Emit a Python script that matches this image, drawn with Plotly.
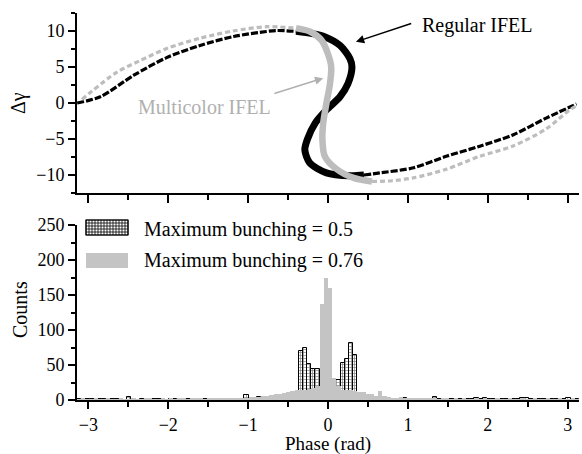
import numpy as np
import plotly.graph_objects as go

# ---------------- phase-space trajectories (top panel) ----------------
# Regular IFEL (black)
regular_tail_left_phase = [-3.14, -2.85, -2.43, -2.02, -1.60, -1.18, -0.77, -0.64, -0.40]
regular_tail_left_dg = [0.0, 0.87, 3.86, 6.3, 8.0, 9.24, 9.93, 10.07, 9.95]
regular_core_phase = [-0.40, -0.20, -0.05, 0.15, 0.275, 0.30, 0.25, 0.15,
                      -0.02, -0.16, -0.26, -0.29, -0.23, -0.02, 0.275, 0.45]
regular_core_dg = [9.95, 9.65, 9.25, 8.0, 6.16, 5.0, 2.7, 0.87,
                   -0.97, -2.8, -5.1, -6.5, -8.3, -9.7, -10.1, -10.0]
regular_tail_right_phase = [0.45, 0.65, 1.07, 1.48, 1.90, 2.32, 2.73, 3.11]
regular_tail_right_dg = [-10.0, -9.7, -9.0, -7.4, -6.0, -4.4, -2.1, -0.14]

# Multicolor IFEL (grey)
multi_tail_left_phase = [-3.08, -2.64, -2.35, -2.01, -1.60, -1.19, -0.76, -0.40]
multi_tail_left_dg = [0.5, 4.3, 5.9, 7.6, 9.0, 10.0, 10.6, 10.4]
multi_core_phase = [-0.40, -0.22, -0.08, 0.0, 0.04, 0.025, -0.02, -0.06, -0.07,
                    -0.04, 0.11, 0.32, 0.55]
multi_core_dg = [10.4, 9.9, 8.7, 6.8, 5.0, 2.7, -0.05, -2.8, -5.1,
                 -7.4, -9.2, -10.4, -10.9]
multi_tail_right_phase = [0.55, 0.80, 1.07, 1.48, 1.90, 2.31, 2.73, 3.02, 3.11]
multi_tail_right_dg = [-10.9, -10.8, -10.4, -9.2, -7.4, -6.0, -3.6, -1.0, -0.4]

# ---------------- phase histograms (bottom panel) ----------------
n_bins = 120
counts_bunching_05 = [
    1, 0, 2, 1, 2, 1, 1, 0, 1, 1,
    1, 0, 4, 1, 0, 1, 1, 2, 2, 2,
    1, 0, 1, 1, 0, 1, 1, 1, 1, 2,
    2, 2, 1, 2, 2, 1, 0, 1, 1, 1,
    7, 1, 2, 4, 1, 1, 1, 3, 1, 2,
    2, 3, 6, 70, 75, 52, 45, 45, 30, 12,
    12, 25, 28, 53, 59, 81, 64, 10, 3, 2,
    2, 1, 1, 3, 1, 2, 1, 1, 3, 1,
    2, 1, 1, 2, 1, 5, 1, 1, 2, 1,
    2, 1, 1, 1, 2, 3, 2, 3, 1, 1,
    1, 1, 2, 1, 1, 1, 3, 3, 1, 1,
    2, 1, 1, 2, 1, 1, 2, 3, 1, 1,
]
counts_bunching_076 = [
    1, 2, 1, 1, 2, 1, 1, 2, 1, 1,
    2, 1, 1, 2, 1, 1, 2, 2, 1, 1,
    2, 1, 2, 1, 2, 2, 1, 2, 2, 2,
    1, 2, 2, 3, 2, 2, 3, 2, 3, 3,
    3, 4, 4, 5, 6, 6, 7, 8, 9, 10,
    11, 13, 15, 15, 15, 16, 17, 20, 137, 174,
    160, 32, 20, 15, 14, 14, 13, 12, 11, 9,
    8, 6, 13, 6, 4, 3, 3, 4, 3, 2,
    3, 2, 2, 3, 2, 2, 1, 2, 2, 1,
    2, 1, 2, 1, 1, 2, 1, 2, 1, 1,
    2, 1, 1, 2, 1, 1, 2, 1, 1, 2,
    1, 1, 2, 1, 1, 2, 1, 1, 2, 1,
]
legend_labels = ["Maximum bunching = 0.5", "Maximum bunching = 0.76"]

bin_width = 2 * np.pi / n_bins
bin_centers = -np.pi + (np.arange(n_bins) + 0.5) * bin_width

FONT = "Liberation Serif, Times New Roman, serif"
BLACK = "#000000"
GREY_CURVE = "#bdbdbd"
GREY_BAR = "#c4c4c4"
GREY_TEXT = "#b0b0b0"

fig = go.Figure()

# --- top panel traces ---
def add_curve(px, py, color, width, dash):
    fig.add_trace(go.Scatter(
        x=px, y=py, mode="lines", xaxis="x2", yaxis="y2",
        line=dict(color=color, width=width, dash=dash, shape="spline", smoothing=0.8),
        showlegend=False, hoverinfo="skip"))

add_curve(regular_tail_left_phase, regular_tail_left_dg, BLACK, 3.2, "7px,2px")
add_curve(regular_tail_right_phase, regular_tail_right_dg, BLACK, 3.2, "7px,2px")
add_curve(regular_core_phase, regular_core_dg, BLACK, 7, "solid")
add_curve(multi_tail_left_phase, multi_tail_left_dg, GREY_CURVE, 3.2, "5px,3px")
add_curve(multi_tail_right_phase, multi_tail_right_dg, GREY_CURVE, 3.2, "5px,3px")
add_curve(multi_core_phase, multi_core_dg, GREY_CURVE, 6.5, "solid")

# --- bottom panel traces ---
fig.add_trace(go.Bar(
    x=bin_centers, y=counts_bunching_05, width=bin_width, name=legend_labels[0],
    marker=dict(color="white", line=dict(color=BLACK, width=1),
                pattern=dict(shape="+", fgcolor=BLACK, bgcolor="white",
                             size=3, solidity=0.4)),
    showlegend=False, hoverinfo="skip"))
fig.add_trace(go.Bar(
    x=bin_centers, y=counts_bunching_076, width=bin_width, name=legend_labels[1],
    marker=dict(color=GREY_BAR, line=dict(width=0)),
    showlegend=False, hoverinfo="skip"))

# --- axes ---
L, R, T, B = 77, 3, 13, 54
W, H = 582, 454
ph = H - T - B
pw = W - L - R

def py2paper(py):
    return (H - B - py) / ph

def px2paper(px):
    return (px - L) / pw

axis_common = dict(showline=True, linecolor=BLACK, linewidth=2, ticks="outside",
                   tickcolor=BLACK, tickwidth=2, showgrid=False, zeroline=False,
                   tickfont=dict(family=FONT, size=18, color=BLACK), mirror=False)

fig.update_layout(
    width=W, height=H,
    margin=dict(l=L, r=R, t=T, b=B),
    paper_bgcolor="white", plot_bgcolor="white",
    barmode="overlay", bargap=0,
    xaxis=dict(**axis_common, domain=[0, 1], anchor="y", range=[-np.pi, np.pi],
               tickvals=[-3, -2, -1, 0, 1, 2, 3], ticklen=7,
               minor=dict(ticks="outside", dtick=0.5, tick0=0, ticklen=5,
                          tickwidth=2, tickcolor=BLACK)),
    yaxis=dict(**axis_common, domain=[0, py2paper(225)], anchor="x", range=[0, 250],
               tickvals=[0, 50, 100, 150, 200, 250], ticklen=7,
               minor=dict(ticks="outside", dtick=25, tick0=0, ticklen=4,
                          tickwidth=2, tickcolor=BLACK)),
    xaxis2=dict(**axis_common, domain=[0, 1], anchor="y2", range=[-np.pi, np.pi],
                matches="x", showticklabels=False,
                tickvals=[-3, -2, -1, 0, 1, 2, 3], ticklen=8,
                minor=dict(ticks="outside", dtick=0.5, tick0=0, ticklen=5,
                           tickwidth=2, tickcolor=BLACK)),
    yaxis2=dict(**axis_common, domain=[py2paper(193), 1], anchor="x2", range=[-12.5, 12.5],
                tickvals=[-10, -5, 0, 5, 10], ticklen=7,
                minor=dict(ticks="outside", dtick=2.5, tick0=0, ticklen=4,
                           tickwidth=2, tickcolor=BLACK)),
    showlegend=False,
)

annotations = []
# axis titles
annotations.append(dict(text="Δγ", xref="paper", yref="paper", x=px2paper(19),
                        y=py2paper(103), textangle=-90, showarrow=False,
                        xanchor="center", yanchor="middle",
                        font=dict(family=FONT, size=20, color=BLACK)))
annotations.append(dict(text="Counts", xref="paper", yref="paper", x=px2paper(20),
                        y=py2paper(310), textangle=-90, showarrow=False,
                        xanchor="center", yanchor="middle",
                        font=dict(family=FONT, size=20, color=BLACK)))
annotations.append(dict(text="Phase (rad)", xref="paper", yref="paper", x=px2paper(328),
                        y=py2paper(444), showarrow=False,
                        xanchor="center", yanchor="middle",
                        font=dict(family=FONT, size=19, color=BLACK)))
# curve labels with arrows
annotations.append(dict(text="Regular IFEL", xref="x2", yref="y2", x=1.15, y=10.8,
                        xanchor="left", yanchor="middle", showarrow=False,
                        font=dict(family=FONT, size=20, color=BLACK)))
annotations.append(dict(text="", xref="x2", yref="y2", x=0.35, y=8.5,
                        axref="x2", ayref="y2", ax=1.06, ay=11.1,
                        showarrow=True, arrowhead=2, arrowsize=1.1, arrowwidth=1.5,
                        arrowcolor=BLACK, standoff=0, startstandoff=0))
annotations.append(dict(text="Multicolor IFEL", xref="x2", yref="y2", x=-1.55, y=-0.55,
                        xanchor="center", yanchor="middle", showarrow=False,
                        font=dict(family=FONT, size=20, color=GREY_TEXT)))
annotations.append(dict(text="", xref="x2", yref="y2", x=-0.06, y=3.45,
                        axref="x2", ayref="y2", ax=-0.69, ay=1.25,
                        showarrow=True, arrowhead=2, arrowsize=1.1, arrowwidth=1.5,
                        arrowcolor=GREY_TEXT, standoff=0, startstandoff=0))
# legend texts
annotations.append(dict(text=legend_labels[0], xref="paper", yref="paper",
                        x=px2paper(142), y=py2paper(229), xanchor="left", yanchor="middle",
                        showarrow=False, font=dict(family=FONT, size=20, color=BLACK)))
annotations.append(dict(text=legend_labels[1], xref="paper", yref="paper",
                        x=px2paper(142), y=py2paper(260), xanchor="left", yanchor="middle",
                        showarrow=False, font=dict(family=FONT, size=20, color=BLACK)))

# legend swatches
shapes = []
x0, x1 = px2paper(86), px2paper(128)
shapes.append(dict(type="rect", xref="paper", yref="paper", x0=x0, x1=x1,
                   y0=py2paper(268), y1=py2paper(253), fillcolor=GREY_BAR,
                   line=dict(width=0)))
# hatched swatch: outlined box with a fine grid
hx0, hx1, hy0, hy1 = 86, 128, 220, 235
path = ""
for gx in np.arange(hx0, hx1 + 0.1, 3.0):
    path += f"M{px2paper(gx)},{py2paper(hy0)}L{px2paper(gx)},{py2paper(hy1)}"
for gy in np.arange(hy0, hy1 + 0.1, 3.0):
    path += f"M{px2paper(hx0)},{py2paper(gy)}L{px2paper(hx1)},{py2paper(gy)}"
shapes.append(dict(type="path", xref="paper", yref="paper", path=path,
                   line=dict(color=BLACK, width=0.8)))
shapes.append(dict(type="rect", xref="paper", yref="paper", x0=x0, x1=x1,
                   y0=py2paper(hy1), y1=py2paper(hy0), line=dict(color=BLACK, width=1.2)))

fig.update_layout(annotations=annotations, shapes=shapes)

fig.write_html("out.html")
